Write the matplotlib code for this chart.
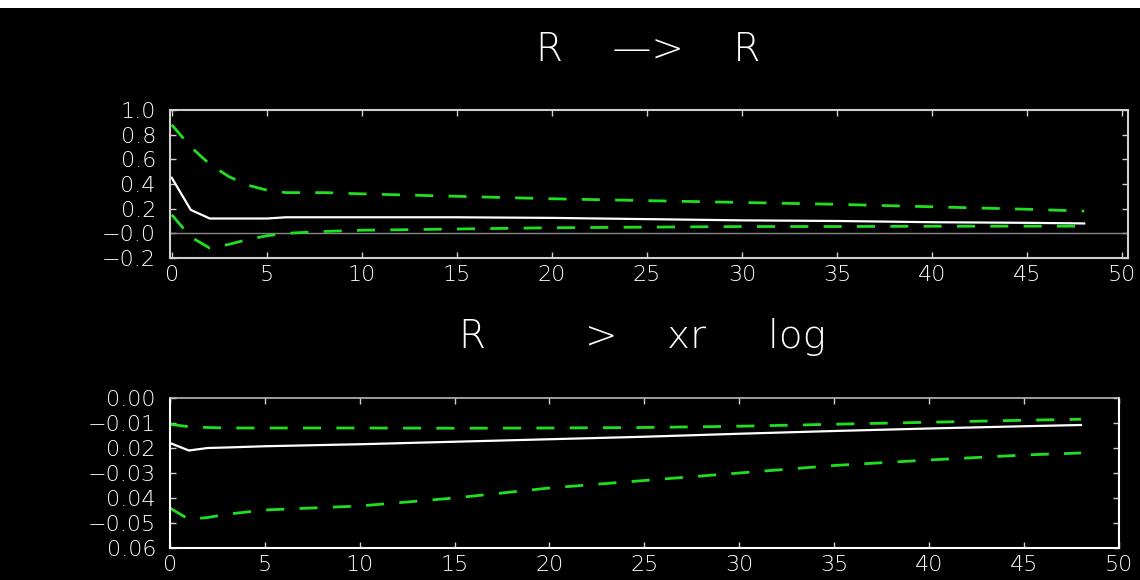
import matplotlib
matplotlib.use("Agg")
import matplotlib.pyplot as plt
from matplotlib.patches import Rectangle

# ---- data ----
x_top = [0, 1, 2, 3, 4, 5, 6, 8, 10, 15, 20, 25, 30, 35, 40, 45, 48]
rr_mid = [0.45, 0.19, 0.12, 0.12, 0.12, 0.12, 0.13, 0.13, 0.13, 0.13, 0.125, 0.115, 0.105, 0.10, 0.09, 0.085, 0.08]
rr_up = [0.88, 0.70, 0.56, 0.46, 0.39, 0.35, 0.33, 0.33, 0.32, 0.30, 0.28, 0.265, 0.25, 0.235, 0.215, 0.195, 0.18]
rr_lo = [0.15, -0.03, -0.12, -0.09, -0.05, -0.02, 0.0, 0.015, 0.025, 0.035, 0.045, 0.05, 0.055, 0.055, 0.057, 0.058, 0.058]

x_bot = [0, 1, 2, 3, 5, 10, 15, 20, 25, 30, 35, 40, 45, 48]
xr_mid = [-0.018, -0.021, -0.020, -0.0198, -0.0193, -0.0185, -0.0175, -0.0165, -0.0155, -0.0143, -0.0132, -0.0122, -0.0113, -0.0108]
xr_up = [-0.0105, -0.0115, -0.0118, -0.012, -0.012, -0.012, -0.0121, -0.012, -0.0118, -0.0113, -0.0105, -0.0097, -0.0089, -0.0085]
xr_lo = [-0.044, -0.0485, -0.0478, -0.0465, -0.0448, -0.0432, -0.040, -0.036, -0.033, -0.030, -0.027, -0.0248, -0.0228, -0.022]

x_ticks = [0, 5, 10, 15, 20, 25, 30, 35, 40, 45, 50]
x_labels = ["0", "5", "10", "15", "20", "25", "30", "35", "40", "45", "50"]
top_yticks = [1.0, 0.8, 0.6, 0.4, 0.2, 0.0, -0.2]
top_ylabels = ["1.0", "0.8", "0.6", "0.4", "0.2", "\u22120.0", "\u22120.2"]
bot_yticks = [0.0, -0.01, -0.02, -0.03, -0.04, -0.05, -0.06]
bot_ylabels = ["0.00", "\u22120.01", "0.02", "\u22120.03", "0.04", "\u22120.05", "0.06"]

title_top = "R    \u2014>    R"
title_bot = "R        >    xr     log"

GREEN = "#1fe01f"
FONT = ["DejaVu Sans"]

fig = plt.figure(figsize=(11.4, 5.8), dpi=100, facecolor="black")
fig.patches.append(Rectangle((0, 1 - 8 / 580), 1, 8 / 580, transform=fig.transFigure,
                             facecolor="white", edgecolor="none", zorder=0))

ax1 = fig.add_axes([0.149, 0.5552, 0.8404, 0.2552])
ax2 = fig.add_axes([0.149, 0.0552, 0.8325, 0.2586])

def style(ax, spine_color):
    ax.set_facecolor("black")
    for s in ax.spines.values():
        s.set_color(spine_color)
        s.set_linewidth(1.5)
    ax.tick_params(direction="in", length=4, width=1, colors="#d0d0d0",
                   top=True, right=True, labelsize=16, labelcolor="white")
    ax.tick_params(axis="x", pad=5)
    ax.tick_params(axis="y", pad=10)
    for lab in ax.get_xticklabels() + ax.get_yticklabels():
        lab.set_family(FONT)
        lab.set_fontweight("light")

DASH = (6.5, 5.5)

ax1.axhline(0.0, color="#888888", lw=1.0)
ax1.plot(x_top, rr_mid, color="white", lw=1.6)
ax1.plot(x_top, rr_up, color=GREEN, lw=2, dashes=DASH)
ax1.plot(x_top, rr_lo, color=GREEN, lw=2, dashes=DASH)
ax1.set_xlim(-0.1, 50.3)
ax1.set_ylim(-0.2, 1.0)
ax1.set_xticks(x_ticks)
ax1.set_xticklabels(x_labels)
ax1.set_yticks(top_yticks)
ax1.set_yticklabels(top_ylabels)
style(ax1, "#d0d0d0")

ax2.plot(x_bot, xr_mid, color="white", lw=1.6)
ax2.plot(x_bot, xr_up, color=GREEN, lw=2, dashes=DASH)
ax2.plot(x_bot, xr_lo, color=GREEN, lw=2, dashes=DASH)
ax2.set_xlim(0, 50)
ax2.set_ylim(-0.06, 0.0)
ax2.set_xticks(x_ticks)
ax2.set_xticklabels(x_labels)
ax2.set_yticks(bot_yticks)
ax2.set_yticklabels(bot_ylabels)
style(ax2, "white")
ax2.spines["top"].set_color("#bbbbbb")
ax2.spines["top"].set_linewidth(1.2)

fig.text(0.569, 0.9138, title_top, color="white", fontsize=28, ha="center", va="center",
         family=FONT, fontweight="light")
fig.text(0.564, 0.419, title_bot, color="white", fontsize=28, ha="center", va="center",
         family=FONT, fontweight="light")

fig.savefig("out.png", dpi=100, facecolor="black")
